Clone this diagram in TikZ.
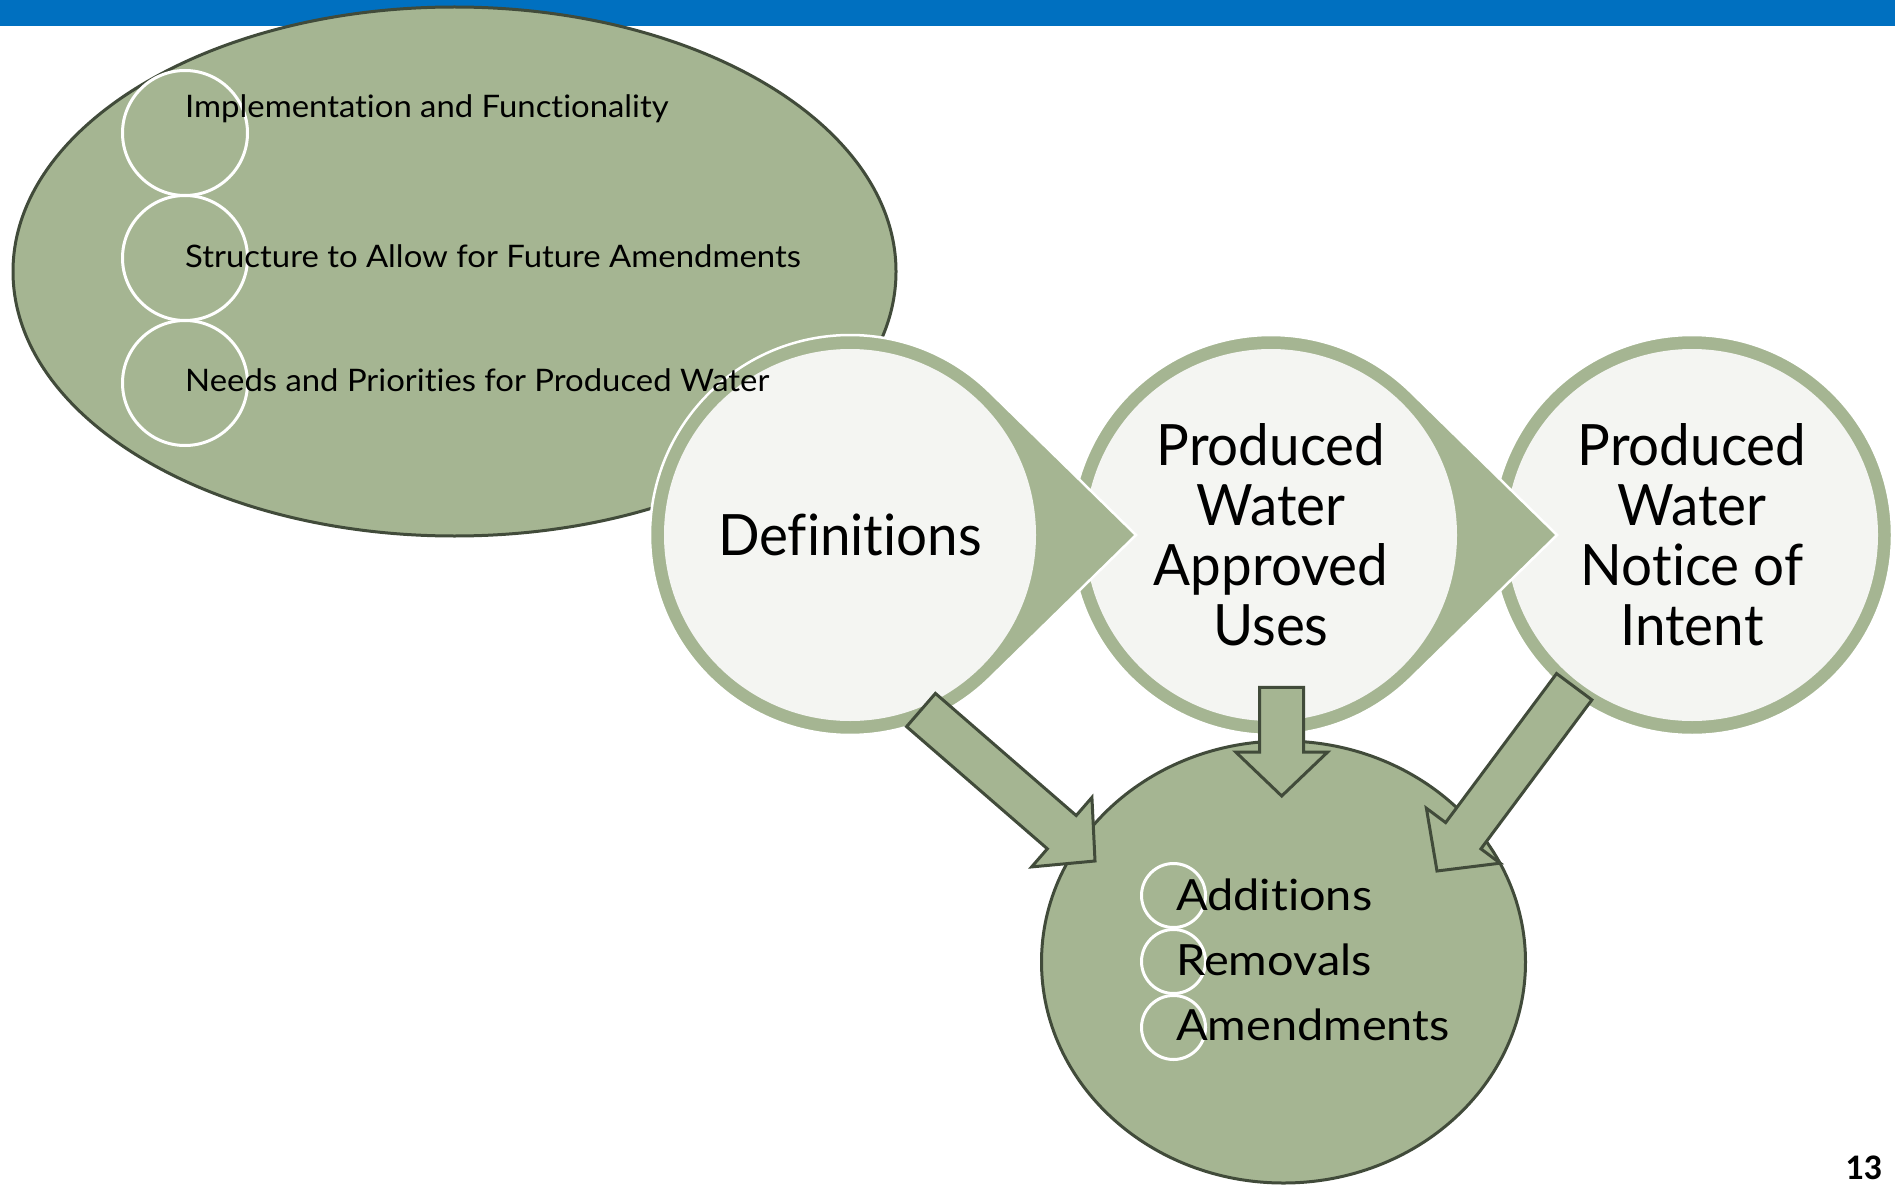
\documentclass[tikz,border=0pt]{standalone}
\usepackage{fontspec}
\usetikzlibrary{shapes.geometric,calc}
\newfontfamily\bodyfont[FakeStretch=0.96, Ligatures=NoCommon]{Lato}
\newfontfamily\itemfont[FakeStretch=1.06, Ligatures=NoCommon]{Lato}
\newfontfamily\listfont[FakeStretch=1.09, Ligatures=NoCommon]{Lato}
\newfontfamily\numfont{Carlito}
\definecolor{barblue}{HTML}{0070C0}
\definecolor{sage}{HTML}{A5B592}
\definecolor{sagedark}{HTML}{414B3A}
\definecolor{paper}{HTML}{F4F5F2}

\tikzset{
  bigblob/.style={ellipse, fill=sage, draw=sagedark, line width=3pt, inner sep=0pt},
  ring/.style={fill=sage, draw=white, line width=2.5pt},
  core/.style={circle, fill=paper, minimum size=372pt, inner sep=0pt, align=center,
    font=\bodyfont\fontsize{57}{60}\selectfont},
  bullet/.style={circle, draw=white, line width=3pt, inner sep=0pt},
  smalltext/.style={anchor=base west, inner sep=0pt, font=\itemfont\fontsize{31}{36}\selectfont},
  listtext/.style={anchor=base west, inner sep=0pt, font=\listfont\fontsize{43}{50}\selectfont},
  blockarr/.style={fill=sage, draw=sagedark, line width=3pt, line join=miter},
}

% block arrow from a tail point to a tip point
\newcommand\blockarrow[2]{%
  \path ($(#2)!44pt!(#1)$) coordinate (hb);
  \draw[blockarr] ($(#1)!22pt!90:(#2)$) -- ($(hb)!22pt!90:(#2)$) -- ($(hb)!46pt!90:(#2)$)
    -- (#2) -- ($(hb)!46pt!-90:(#2)$) -- ($(hb)!22pt!-90:(#2)$) -- ($(#1)!22pt!-90:(#2)$) -- cycle;
}

\begin{document}
\begin{tikzpicture}[x=1pt,y=-1pt]
\useasboundingbox (0,0) rectangle (1895,1193);

% title bar
\fill[barblue] (0,0) rectangle (1895,26);

% upper left oval
\node[bigblob, minimum width=883pt, minimum height=529pt] (scope) at (454.5,271.5) {};

% third stage
\coordinate (p3) at (1692,535);
\fill[ring] (p3) circle[radius=200];
\node[core] (noi) at (p3) {Produced\\Water\\Notice of\\Intent};

% second stage with pointer
\coordinate (p2) at (1271,535);
\coordinate (tip2) at ($(p2)+(286,0)$);
\fill[ring] (tip2) -- ($(p2)+(45.6:200)$) arc[start angle=45.6, end angle=314.4, radius=200] -- cycle;
\node[core] (uses) at (p2) {Produced\\Water\\Approved\\Uses};

% first stage with pointer
\coordinate (p1) at (850,535);
\coordinate (tip1) at ($(p1)+(286,0)$);
\fill[ring] (tip1) -- ($(p1)+(45.6:200)$) arc[start angle=45.6, end angle=314.4, radius=200] -- cycle;
\node[core] (def) at (p1) {Definitions};

% lower oval
\node[bigblob, minimum width=484pt, minimum height=442pt] (changes) at (1283.5,962) {};

% arrows into the lower oval
\coordinate (a1s) at ($(def.center)+(71,175)$);
\coordinate (a1e) at ($(changes.center)+(-188.5,-101)$);
\coordinate (a2s) at ($(uses.center)+(10.7,152.3)$);
\coordinate (a2e) at ($(changes.center)+(-1.8,-166)$);
\coordinate (a3s) at ($(noi.center)+(-117.8,151.7)$);
\coordinate (a3e) at ($(changes.center)+(153.5,-91)$);
\blockarrow{a1s}{a1e}
\blockarrow{a2s}{a2e}
\blockarrow{a3s}{a3e}

% bullets and items of the upper oval
\node[bullet, minimum size=125pt] (b1) at (185,133) {};
\node[bullet, minimum size=125pt] (b2) at (185,258) {};
\node[bullet, minimum size=125pt] (b3) at (185,383) {};
\node[smalltext] (s1) at (185,118) {Implementation and Functionality};
\node[smalltext] (s2) at (185,267) {Structure to Allow for Future Amendments};
\node[smalltext] (s3) at (185,391) {Needs and Priorities for Produced Water};

% bullets and items of the lower oval
\node[bullet, minimum size=64pt] (c1) at (1173.5,895.5) {};
\node[bullet, minimum size=64pt] (c2) at (1173.5,961.5) {};
\node[bullet, minimum size=64pt] (c3) at (1173.5,1027.5) {};
\node[listtext] (l1) at (1176,910) {Additions};
\node[listtext] (l2) at (1176,975) {Removals};
\node[listtext] (l3) at (1176,1040) {Amendments};

% page number
\node[anchor=base east, inner sep=0pt, font=\numfont\bfseries\fontsize{36}{40}\selectfont] (pg) at (1882,1179) {13};
\end{tikzpicture}
\end{document}
